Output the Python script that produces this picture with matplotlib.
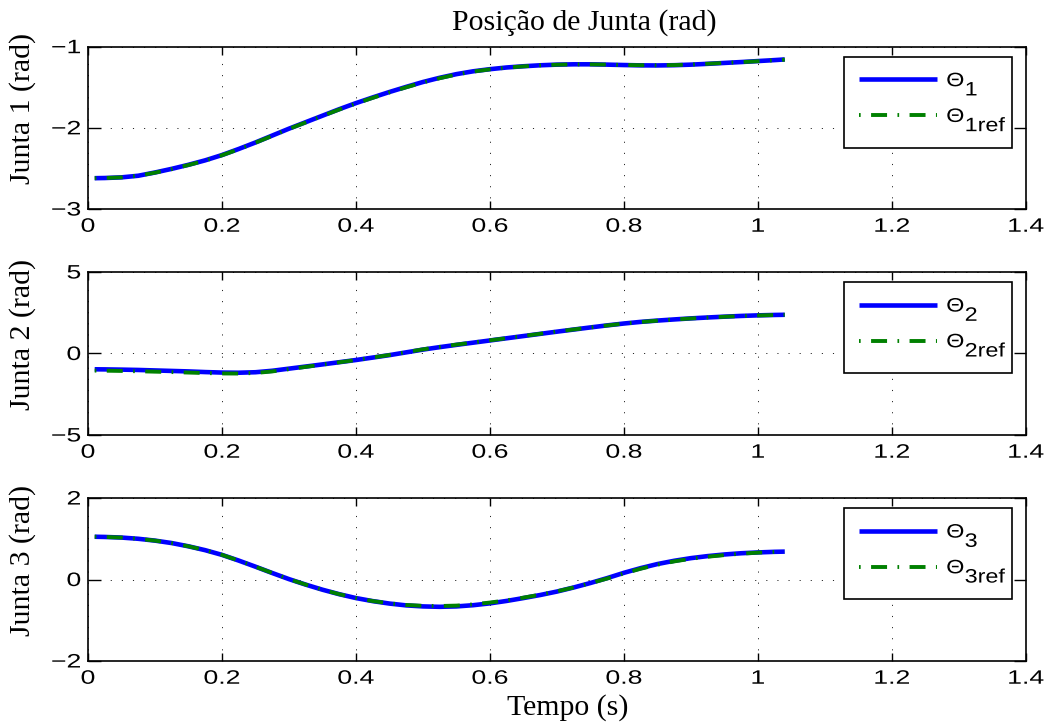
import matplotlib
matplotlib.use('Agg')
import matplotlib.pyplot as plt
import matplotlib._mathtext as mathtext_interno
from matplotlib.patheffects import AbstractPathEffect
from matplotlib.transforms import Affine2D

# dados
tempo = [0.01, 0.025, 0.05, 0.075, 0.10, 0.125, 0.15, 0.175, 0.20, 0.225, 0.25,
         0.275, 0.30, 0.325, 0.35, 0.375, 0.40, 0.425, 0.45, 0.475, 0.50, 0.525,
         0.55, 0.575, 0.60, 0.625, 0.65, 0.675, 0.70, 0.725, 0.75, 0.775, 0.80,
         0.825, 0.85, 0.875, 0.90, 0.925, 0.95, 0.975, 1.00, 1.025, 1.04]

theta1 = [-2.620, -2.618, -2.610, -2.590, -2.550, -2.505, -2.455, -2.400, -2.335, -2.260, -2.180,
          -2.095, -2.010, -1.930, -1.850, -1.770, -1.695, -1.625, -1.558, -1.495, -1.435, -1.383,
          -1.338, -1.303, -1.277, -1.256, -1.241, -1.229, -1.221, -1.217, -1.217, -1.221, -1.226,
          -1.230, -1.231, -1.228, -1.221, -1.211, -1.200, -1.189, -1.177, -1.165, -1.157]
theta1_ref = [-2.620, -2.618, -2.610, -2.590, -2.552, -2.508, -2.458, -2.403, -2.338, -2.263, -2.183,
              -2.098, -2.013, -1.933, -1.853, -1.774, -1.700, -1.630, -1.563, -1.500, -1.440, -1.388,
              -1.342, -1.306, -1.279, -1.258, -1.242, -1.230, -1.222, -1.218, -1.218, -1.221, -1.225,
              -1.228, -1.229, -1.226, -1.220, -1.210, -1.200, -1.190, -1.179, -1.167, -1.160]

theta2 = [-0.970, -0.975, -0.990, -1.010, -1.040, -1.070, -1.100, -1.140, -1.170, -1.180, -1.150,
          -1.060, -0.930, -0.800, -0.670, -0.535, -0.400, -0.250, -0.100, 0.070, 0.240, 0.390,
          0.530, 0.665, 0.800, 0.935, 1.070, 1.205, 1.340, 1.470, 1.600, 1.725, 1.840,
          1.940, 2.020, 2.090, 2.155, 2.210, 2.260, 2.305, 2.340, 2.365, 2.375]
theta2_ref = [-1.050, -1.055, -1.070, -1.090, -1.115, -1.140, -1.170, -1.200, -1.225, -1.230, -1.195,
              -1.100, -0.960, -0.820, -0.680, -0.540, -0.400, -0.245, -0.090, 0.080, 0.255, 0.405,
              0.545, 0.675, 0.810, 0.940, 1.075, 1.210, 1.345, 1.475, 1.600, 1.720, 1.835,
              1.935, 2.015, 2.085, 2.150, 2.205, 2.255, 2.300, 2.335, 2.360, 2.375]

theta3 = [1.050, 1.045, 1.030, 1.000, 0.955, 0.895, 0.815, 0.720, 0.605, 0.465, 0.315,
          0.160, 0.010, -0.125, -0.250, -0.360, -0.455, -0.530, -0.590, -0.635, -0.660, -0.670,
          -0.660, -0.630, -0.585, -0.525, -0.455, -0.380, -0.295, -0.195, -0.085, 0.035, 0.165,
          0.280, 0.380, 0.460, 0.525, 0.575, 0.615, 0.645, 0.665, 0.680, 0.685]
theta3_ref = [1.050, 1.045, 1.030, 1.000, 0.955, 0.895, 0.815, 0.720, 0.605, 0.465, 0.315,
              0.160, 0.010, -0.125, -0.250, -0.360, -0.455, -0.528, -0.585, -0.625, -0.645, -0.650,
              -0.640, -0.610, -0.565, -0.510, -0.445, -0.372, -0.290, -0.195, -0.090, 0.025, 0.150,
              0.265, 0.365, 0.445, 0.510, 0.560, 0.600, 0.635, 0.660, 0.678, 0.685]

series = [theta1, theta2, theta3]
series_ref = [theta1_ref, theta2_ref, theta3_ref]
nomes = ['Junta 1 (rad)', 'Junta 2 (rad)', 'Junta 3 (rad)']
legendas = [(r'$\Theta_{1}$', r'$\Theta_{\mathrm{1ref}}$'),
            (r'$\Theta_{2}$', r'$\Theta_{\mathrm{2ref}}$'),
            (r'$\Theta_{3}$', r'$\Theta_{\mathrm{3ref}}$')]
limites_y = [(-3, -1), (-5, 5), (-2, 2)]
ticks_y = [[-3, -2, -1], [-5, 0, 5], [-2, 0, 2]]
ticks_x = [0, 0.2, 0.4, 0.6, 0.8, 1.0, 1.2, 1.4]
rotulos_x = ['0', '0.2', '0.4', '0.6', '0.8', '1', '1.2', '1.4']


# estica o texto na horizontal (a figura original foi redimensionada)
class Estica(AbstractPathEffect):
    def __init__(self, sx, ancora='center'):
        super().__init__()
        self.sx = sx
        self.ancora = ancora

    def draw_path(self, renderer, gc, tpath, affine, rgbFace=None):
        ext = tpath.get_extents()
        if self.ancora == 'left':
            cx = ext.x0
        elif self.ancora == 'right':
            cx = ext.x1
        else:
            cx = (ext.x0 + ext.x1) / 2
        t = Affine2D().translate(-cx, 0).scale(self.sx, 1).translate(cx, 0) + affine
        renderer.draw_path(gc, tpath, t, rgbFace)


# subscritos grandes e baixos, como no MATLAB
mathtext_interno.SHRINK_FACTOR = 1.0
mathtext_interno.FontConstantsBase.subdrop = 1.0
mathtext_interno.FontConstantsBase.sub1 = 0.9

plt.rcParams['font.family'] = ['Liberation Sans', 'DejaVu Sans']
plt.rcParams['mathtext.fontset'] = 'custom'
plt.rcParams['mathtext.rm'] = 'Liberation Sans'
plt.rcParams['mathtext.it'] = 'Liberation Sans:italic'
plt.rcParams['lines.scale_dashes'] = False
plt.rcParams['axes.linewidth'] = 1.2

fator = 1.37
serif = 'Liberation Serif'

fig = plt.figure(figsize=(10.5, 7.24), dpi=100)
posicoes = [[0.0838, 0.7113, 0.8933, 0.2242],
            [0.0838, 0.3992, 0.8933, 0.2251],
            [0.0838, 0.0870, 0.8933, 0.2251]]

for i in range(3):
    ax = fig.add_axes(posicoes[i])
    ax.plot(tempo, series[i], color='#0000ff', lw=3.3, solid_capstyle='butt', label=legendas[i][0])
    ax.plot(tempo, series_ref[i], color='#008000', lw=2.8,
            linestyle=(19, (11.5, 7.5, 1.2, 7.5)), dash_capstyle='butt', label=legendas[i][1])
    ax.set_xlim(0, 1.4)
    ax.set_ylim(*limites_y[i])
    ax.set_xticks(ticks_x)
    ax.set_xticklabels(rotulos_x)
    ax.set_yticks(ticks_y[i])
    ax.set_yticklabels([str(v).replace('-', '\u2212') for v in ticks_y[i]])
    ax.grid(True, color='#222222', lw=0.7, linestyle=(0, (0.8, 7.2)))
    ax.tick_params(direction='in', top=True, right=True, width=1, labelsize=14, colors='k')
    ax.tick_params(axis='x', length=5.5, pad=7)
    ax.tick_params(axis='y', length=9, pad=5)
    for lab in ax.get_xticklabels():
        lab.set_path_effects([Estica(fator, 'center')])
    for lab in ax.get_yticklabels():
        lab.set_path_effects([Estica(fator, 'right')])
    ax.set_ylabel(nomes[i], fontfamily=serif, fontsize=21.5)
    ax.yaxis.set_label_coords(-0.0554, 0.618)

    leg = ax.legend(loc='upper right', bbox_to_anchor=(1 - 14 / 938, 1 - 10 / 163),
                    borderaxespad=0, fontsize=14, handlelength=4.05, handletextpad=0.46,
                    borderpad=0.75, labelspacing=0.5, fancybox=False, framealpha=1,
                    edgecolor='k')
    leg.get_frame().set_linewidth(1.2)
    for txt in leg.get_texts():
        txt.set_path_effects([Estica(1.2, 'left')])

fig.text(584 / 1050, 1 - 30 / 724, 'Posição de Junta (rad)', ha='center', va='baseline',
         fontfamily=serif, fontsize=21.5)
fig.text(568 / 1050, 1 - 715 / 724, 'Tempo (s)', ha='center', va='baseline',
         fontfamily=serif, fontsize=21.5)

fig.savefig('out.png', dpi=100)
